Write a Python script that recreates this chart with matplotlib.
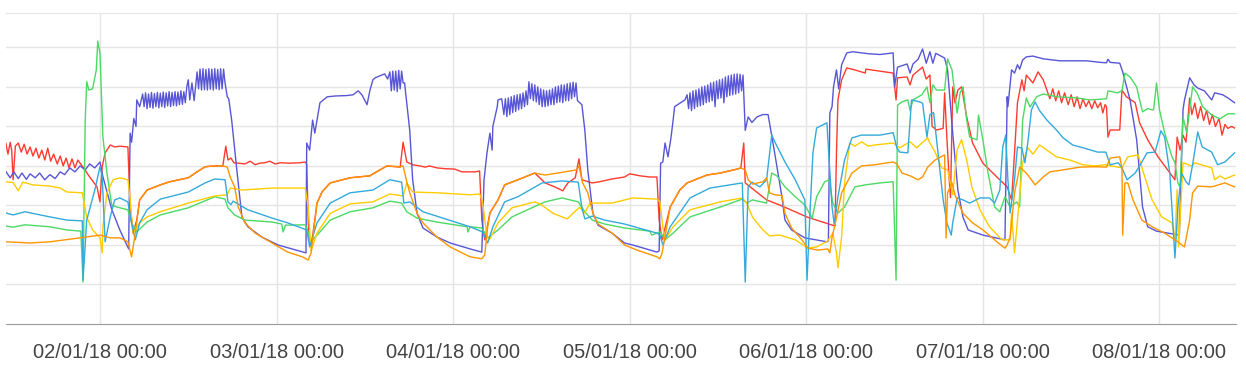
import matplotlib
matplotlib.use("Agg")
import matplotlib.pyplot as plt
import matplotlib.dates as mdates
import pandas as pd

# hours since 01/01/18 00:00 and readings for each series
blue_t = [11.2, 11.8, 12.3, 12.9, 13.4, 14.0, 14.5, 15.2, 15.8, 16.5, 17.2, 17.9, 18.6, 19.2, 19.9,
          20.6, 21.3, 22.0, 22.6, 23.3, 24.0, 24.4, 25.6, 26.7, 27.9,
          28.1, 28.3, 28.6, 28.9, 29.0, 29.4, 29.8,
          30.0, 30.2, 30.4, 30.6, 30.8, 31.0, 31.2, 31.4, 31.6, 31.8, 32.0, 32.2, 32.4, 32.6, 32.8,
          33.0, 33.2, 33.4, 33.6, 33.8, 34.0, 34.2, 34.4, 34.6, 34.8, 35.0, 35.2, 35.4, 35.6,
          35.8, 36.0, 36.2, 36.5, 36.8, 37.2,
          37.4, 37.6, 37.8, 38.0, 38.2, 38.4, 38.6, 38.8, 39.0, 39.2, 39.4, 39.6, 39.8, 40.0,
          40.2, 40.4, 40.6, 40.8, 41.0,
          41.3, 41.5, 41.9, 42.6, 43.3, 44.1, 46.0, 48.2, 52.0,
          52.1, 52.5, 52.9, 53.2, 53.9, 54.9, 56.0, 57.5, 58.4, 59.1, 59.6, 60.3, 60.7, 61.1, 61.4,
          62.7, 63.1, 63.4, 63.6, 63.8, 64.0, 64.2, 64.4, 64.6, 64.8, 65.0, 65.2, 65.4,
          66.1, 66.5, 67.1, 67.9, 69.8, 71.6, 74.3, 75.9,
          76.2, 76.6, 77.0, 77.3, 77.4, 78.0, 78.1, 78.6, 78.9, 79.1, 79.3, 79.5, 79.7, 79.9,
          80.1, 80.3, 80.5, 80.7, 80.9, 81.1, 81.3, 81.5, 81.7, 81.9, 82.1, 82.3, 82.5, 82.7,
          82.9, 83.1, 83.3, 83.5, 83.7, 83.9, 84.1, 84.3, 84.5, 84.7, 84.9, 85.1, 85.3, 85.5,
          85.7, 85.9, 86.1, 86.3, 86.5, 86.7, 86.9, 87.1, 87.3, 87.5, 87.7, 87.9, 88.1, 88.3,
          88.5, 88.7, 88.9, 89.2, 89.5, 89.9, 90.3, 91.0, 91.7, 93.6, 95.3, 96.4, 99.7, 100.0,
          100.2, 100.5, 100.8, 101.2, 101.6, 101.9, 102.1, 103.5,
          103.8, 104.0, 104.2, 104.4, 104.6, 104.8, 105.0, 105.2, 105.4, 105.6, 105.8, 106.0,
          106.2, 106.4, 106.6, 106.8, 107.0, 107.2, 107.4, 107.6, 107.8, 108.0, 108.2, 108.4,
          108.6, 108.8, 109.0, 109.2, 109.4, 109.6, 109.8, 110.0, 110.2, 110.4, 110.6, 110.8,
          111.0, 111.2, 111.4,
          111.7, 112.1, 112.6, 113.3, 114.1, 114.8, 115.0, 115.7, 116.7, 117.1, 118.0, 119.8,
          122.8, 123.0,
          123.2, 123.5, 123.7, 124.1, 124.4, 124.8, 125.5, 126.3, 128.4, 130.0, 131.8, 132.0,
          132.4, 133.7, 134.1, 134.5, 135.2, 135.8, 136.3, 136.8, 137.2, 137.6, 138.8, 139.2,
          139.9, 140.6, 141.3, 142.0, 144.0, 147.0,
          147.3, 147.4, 147.9, 148.3, 148.7, 149.0, 149.4, 149.9, 150.8, 152.2, 154.5, 158.1,
          160.0, 160.8, 161.0, 161.3, 162.6, 163.0, 164.0, 164.9, 165.7, 166.4, 167.6, 170.7,
          171.2, 171.4, 172.1, 172.7, 173.2, 174.1, 175.1, 175.5, 176.6, 177.3, 178.2]
blue_v = [3.86, 3.70, 3.85, 3.68, 3.82, 3.66, 3.80, 3.70, 3.82, 3.65, 3.78, 3.68, 3.85, 3.78, 3.95,
          3.85, 4.00, 3.90, 4.05, 3.95, 4.10, 3.73, 2.90, 2.38, 1.90,
          4.83, 4.60, 5.20, 5.00, 5.67, 5.50, 5.82,
          5.50, 5.85, 5.45, 5.82, 5.48, 5.86, 5.46, 5.83, 5.50, 5.86, 5.47, 5.84, 5.50, 5.87, 5.48,
          5.85, 5.52, 5.88, 5.50, 5.86, 5.53, 5.88, 5.52, 5.87, 5.55, 5.90, 5.56, 5.88, 5.60,
          6.00, 6.18, 5.67, 6.10, 5.65, 6.38,
          5.95, 6.45, 5.92, 6.46, 5.93, 6.44, 5.92, 6.46, 5.94, 6.45, 5.92, 6.46, 5.95, 6.44,
          5.93, 6.46, 5.95, 6.45, 6.10,
          5.75, 5.70, 5.16, 3.90, 2.70, 2.46, 2.20, 2.00, 1.80,
          4.58, 4.40, 5.16, 4.83, 5.60, 5.75, 5.77, 5.78, 5.80, 5.90, 5.80, 5.55, 5.92, 6.18, 6.23,
          6.33, 6.20, 6.38, 5.90, 6.40, 5.92, 6.40, 5.88, 6.42, 5.95, 6.40, 6.10, 6.10,
          4.90, 3.65, 2.80, 2.43, 2.20, 2.05, 1.90, 1.82,
          3.65, 4.33, 4.83, 4.40, 5.00, 5.50, 5.67, 5.70, 5.30, 5.70, 5.25, 5.72, 5.30, 5.75,
          5.35, 5.78, 5.38, 5.80, 5.42, 5.82, 5.45, 5.85, 5.50, 5.90, 5.55, 6.13, 5.70, 6.08,
          5.65, 6.05, 5.62, 6.00, 5.55, 5.95, 5.50, 5.92, 5.50, 5.90, 5.52, 5.92, 5.55, 5.95,
          5.55, 6.00, 5.60, 6.02, 5.62, 6.05, 5.60, 6.05, 5.65, 6.08, 5.65, 6.10, 5.70, 6.12,
          5.75, 6.10, 5.65, 5.60, 5.55, 4.90, 3.90, 2.80, 2.50, 2.30, 2.05, 2.00, 1.82, 1.85,
          4.07, 4.10, 4.58, 4.23, 4.70, 5.16, 5.50, 5.67,
          5.80, 5.45, 5.85, 5.40, 5.90, 5.45, 5.92, 5.50, 5.95, 5.52, 6.00, 5.55,
          6.02, 5.60, 6.05, 5.62, 6.10, 5.65, 6.12, 5.50, 6.15, 5.70, 6.18, 5.72,
          6.20, 5.60, 6.25, 5.75, 6.28, 5.78, 6.30, 5.80, 6.32, 5.82, 6.33, 5.85,
          6.32, 5.90, 6.30,
          4.90, 5.24, 5.10, 5.24, 5.30, 5.30, 5.09, 4.33, 3.20, 2.63, 2.38, 2.18,
          2.08, 2.10,
          5.34, 5.50, 6.00, 6.43, 5.95, 6.56, 6.86, 6.89, 6.84, 6.82, 6.86, 6.00,
          6.50, 6.58, 6.35, 6.58, 6.70, 6.96, 6.60, 6.89, 6.60, 6.85, 6.73, 6.43,
          4.83, 3.39, 2.70, 2.38, 2.25, 2.13,
          5.75, 5.50, 6.43, 6.35, 6.56, 6.45, 6.68, 6.76, 6.78, 6.71, 6.66, 6.66,
          6.62, 6.61, 6.70, 6.62, 6.60, 6.38, 5.67, 4.66, 2.96, 2.46, 2.35, 2.25,
          5.42, 5.67, 6.23, 6.05, 5.97, 5.90, 5.67, 5.85, 5.80, 5.72, 5.60]

red_t = [11.2, 11.5, 11.8, 12.0, 12.2, 12.5, 12.9, 13.3, 13.7, 14.1, 14.5, 14.9, 15.3, 15.7, 16.1,
         16.5, 16.9, 17.3, 17.7, 18.2, 18.6, 19.0, 19.4, 19.8, 20.2, 20.6, 21.0, 21.3, 21.7, 22.6,
         23.6, 24.0, 24.3, 24.7, 25.4, 26.0, 26.7, 27.8, 28.1, 28.5, 29.0, 29.4, 30.4, 32.2, 33.5,
         36.0, 37.2, 38.3, 39.6, 40.7, 41.1, 41.4, 41.8, 42.2, 42.8, 43.7, 44.4, 45.1, 45.7, 46.4,
         47.1, 47.8, 48.5, 49.8, 51.2, 51.9, 52.1, 52.3, 52.4, 52.7, 53.5, 54.2, 55.3, 58.0, 60.7,
         61.1, 63.0, 64.8, 65.2, 65.7, 66.5, 67.5, 68.2, 68.8, 69.8, 70.9, 72.2, 73.2, 74.3, 75.0,
         75.6, 75.9, 76.3, 77.0, 78.1, 79.0, 80.8, 83.1, 84.5, 85.8, 86.9, 87.6, 88.6, 89.1, 89.5,
         90.9, 91.9, 93.6, 95.3, 96.0, 97.4, 98.7, 99.7, 100.0, 100.4, 101.5, 102.8, 103.8, 106.5,
         108.3, 110.6, 111.1, 111.5, 111.7, 114.6, 116.4, 120.2, 123.6, 123.9, 124.1, 124.3, 124.8,
         125.5, 126.6, 128.0, 128.1, 130.0, 131.8, 132.2, 132.4, 133.7, 134.1, 134.5, 135.8, 136.3,
         136.8, 137.1, 137.7, 138.6, 138.8, 139.1, 139.4, 139.6, 139.9, 140.2, 140.6, 141.1, 141.8,
         142.6, 144.0, 145.9, 147.3, 147.9, 148.3, 148.7, 149.3, 149.6, 149.9, 150.8, 151.5, 152.2,
         152.7, 153.1, 153.5, 153.9, 154.3, 154.7, 155.1, 155.6, 156.0, 156.4, 156.8, 157.2, 157.6,
         158.0, 158.4, 158.8, 159.2, 159.6, 160.0, 160.3, 160.6, 160.8, 161.0, 161.3, 162.6, 162.9,
         163.5, 164.7, 165.3, 166.4, 167.8, 169.1, 170.1, 170.4, 170.8, 171.2, 171.6, 172.1, 172.4,
         172.8, 173.2, 173.6, 174.0, 174.4, 174.8, 175.2, 175.6, 176.1, 176.5, 176.9, 177.3, 177.8,
         178.2]
red_v = [4.58, 4.30, 4.60, 4.40, 3.65, 4.50, 4.58, 4.35, 4.55, 4.30, 4.48, 4.25, 4.45, 4.20, 4.40,
         4.15, 4.45, 4.12, 4.30, 4.05, 4.25, 4.00, 4.20, 3.95, 4.18, 3.95, 4.15, 4.07, 3.97, 3.72,
         3.47, 3.09, 3.98, 4.33, 4.53, 4.48, 4.50, 4.48, 2.96, 2.30, 2.63, 3.14, 3.39, 3.52, 3.60,
         3.70, 3.85, 3.98, 4.00, 4.00, 4.50, 4.15, 4.20, 4.08, 4.07, 4.05, 4.12, 4.03, 4.07, 4.08,
         4.12, 4.05, 4.08, 4.07, 4.08, 4.10, 4.05, 2.63, 2.13, 1.95, 3.06, 3.35, 3.57, 3.70, 3.75,
         3.80, 4.00, 3.97, 4.60, 4.10, 4.03, 4.00, 3.97, 4.00, 3.95, 3.93, 3.92, 3.85, 3.85, 3.85,
         3.87, 2.63, 2.13, 2.81, 3.14, 3.52, 3.65, 3.82, 3.57, 3.47, 3.37, 3.57, 3.70, 4.18, 3.65,
         3.57, 3.60, 3.67, 3.72, 3.80, 3.75, 3.72, 3.72, 2.63, 2.13, 2.96, 3.39, 3.57, 3.77,
         3.82, 3.92, 3.95, 4.58, 3.57, 3.14, 3.01, 2.70, 2.50, 2.48, 4.33, 5.67, 6.18,
         6.48, 6.43, 6.35, 6.45, 6.40, 6.35, 5.67, 6.23, 6.25, 6.05, 6.30, 6.50, 6.20,
         6.30, 5.00, 4.91, 4.95, 5.85, 4.73, 3.72, 3.20, 6.00, 5.60, 5.92, 6.00, 5.24,
         4.58, 4.07, 3.72, 3.47, 3.14, 4.33, 5.60, 6.18, 5.90, 6.30, 6.10, 6.38, 6.18,
         5.92, 5.70, 5.95, 5.65, 5.90, 5.60, 5.85, 5.55, 5.80, 5.50, 5.75, 5.45, 5.70,
         5.50, 5.65, 5.45, 5.65, 5.47, 5.60, 5.34, 5.55, 5.50, 4.73, 4.91, 4.91, 5.92,
         5.75, 5.60, 5.09, 4.66, 4.23, 3.90, 3.65, 4.73, 4.40, 4.78, 4.60, 5.72, 5.30,
         5.59, 5.20, 5.50, 5.15, 5.40, 5.05, 5.30, 5.00, 5.20, 4.78, 5.05, 4.95, 5.00,
         4.96]

orange_t = [11.2, 14.5, 17.2, 21.3, 24.0, 25.4, 26.7, 27.8, 28.3, 28.8, 29.4, 30.4, 32.2, 33.5, 36.0,
            37.2, 38.3, 39.6, 40.7, 41.3, 41.7, 42.3, 42.8, 43.7, 45.1, 47.4, 49.5, 51.5, 52.3, 52.7,
            53.5, 54.2, 55.3, 58.0, 60.7, 63.0, 64.8, 65.2, 65.7, 66.1, 67.1, 67.9, 69.8, 71.6, 74.3,
            75.9, 76.3, 76.7, 77.0, 78.1, 79.0, 80.8, 83.1, 84.5, 86.2, 88.8, 89.1, 89.6, 90.3, 91.0,
            91.7, 93.6, 95.3, 97.0, 99.7, 100.1, 100.4, 101.5, 102.8, 103.8, 106.5, 108.3, 110.6,
            111.1, 111.7, 112.1, 112.7, 114.1, 114.6, 115.0, 115.7, 116.7, 117.1, 118.0, 119.4, 120.2,
            121.6, 122.9, 123.2, 123.5, 123.9, 124.8, 126.2, 127.5, 129.3, 131.8, 132.3, 133.0, 134.1,
            135.2, 135.8, 136.5, 137.5, 138.8, 139.0, 139.2, 139.8, 140.2, 141.3, 142.6, 144.0, 145.9,
            147.0, 147.3, 147.7, 148.3, 149.0, 149.9, 151.1, 152.2, 153.1, 154.9, 157.2, 159.2, 160.8,
            161.3, 162.6, 162.9, 163.0, 163.3, 163.7, 164.4, 165.6, 167.0, 168.7, 170.5, 171.4, 172.1,
            172.5, 173.2, 175.1, 176.9, 178.2]
orange_v = [2.08, 2.05, 2.08, 2.18, 2.25, 2.18, 2.18, 2.08, 1.70, 2.30, 3.14, 3.39, 3.52, 3.60, 3.70,
            3.85, 3.98, 4.00, 4.00, 3.97, 3.72, 3.47, 2.96, 2.56, 2.30, 2.05, 1.82, 1.70, 1.62, 1.80,
            3.06, 3.35, 3.57, 3.70, 3.75, 4.00, 3.98, 4.00, 3.60, 3.32, 2.80, 2.56, 2.20, 1.95, 1.70,
            1.65, 1.75, 2.46, 2.81, 3.14, 3.52, 3.65, 3.82, 3.77, 3.82, 3.90, 4.00, 3.57, 3.32, 2.80,
            2.53, 2.30, 2.00, 1.87, 1.70, 1.65, 1.80, 2.96, 3.39, 3.57, 3.77, 3.82, 3.92,
            3.95, 3.90, 3.65, 3.54, 3.60, 3.70, 3.32, 3.27, 3.25, 2.80, 2.43, 2.13, 1.92,
            1.87, 1.90, 1.80, 2.20, 2.51, 3.32, 3.82, 4.00, 4.03, 4.10, 4.05, 3.82, 3.75,
            3.65, 3.72, 3.97, 4.15, 4.28, 2.18, 3.32, 3.57, 3.27, 2.80, 2.56, 2.38, 2.08,
            1.92, 2.00, 2.20, 3.32, 3.97, 3.82, 3.52, 3.72, 3.85, 3.90, 3.97, 3.98, 3.97,
            4.20, 4.23, 3.95, 2.25, 3.57, 3.57, 3.14, 2.63, 2.46, 2.30, 2.08, 1.95, 2.63,
            3.32, 3.49, 3.47, 3.57, 3.47]

yellow_t = [11.2, 12.2, 12.9, 13.5, 14.9, 17.2, 18.6, 19.5, 21.6, 22.2, 23.0, 24.0, 24.3, 24.4, 24.95,
            25.8, 26.7, 27.8, 28.1, 28.5, 29.4, 30.4, 32.2, 36.0, 39.6, 41.3, 41.7, 43.3, 47.4, 51.9,
            52.3, 52.7, 53.5, 55.3, 58.0, 61.1, 63.4, 65.2, 65.7, 66.5, 69.8, 74.3, 75.6, 76.0, 76.6,
            77.0, 78.1, 80.0, 83.1, 83.8, 85.6, 87.5, 88.8, 89.2, 89.9, 90.6, 93.6, 95.3, 96.4, 99.7,
            100.1, 100.5, 100.8, 101.9, 104.2, 108.3, 111.3, 111.9, 112.7, 114.1, 115.0, 116.4, 118.5,
            120.2, 121.4, 122.9, 123.6, 124.1, 124.3, 124.8, 125.2, 125.9, 126.6, 127.5, 128.4, 129.3,
            131.8, 132.7, 134.1, 135.0, 136.5, 136.8, 137.5, 138.4, 139.2, 139.9, 140.5, 141.1, 141.8,
            142.5, 143.6, 144.9, 146.6, 147.7, 147.9, 148.3, 148.7, 149.4, 150.1, 150.8, 151.7, 152.7,
            154.0, 155.8, 157.6, 159.2, 160.6, 162.9, 163.7, 165.1, 165.7, 167.0, 168.3, 169.7, 170.1,
            170.4, 170.6, 171.2, 172.4, 172.8, 175.1, 175.5, 176.2, 176.9, 178.2]
yellow_v = [3.60, 3.58, 3.37, 3.59, 3.52, 3.49, 3.44, 3.34, 3.32, 2.70, 2.38, 2.18, 1.80, 2.46, 3.32,
            3.65, 3.70, 3.65, 3.14, 2.30, 2.56, 2.71, 2.84, 3.06, 3.24, 3.27, 3.44, 3.39, 3.44, 3.44,
            2.96, 1.85, 2.30, 2.80, 3.04, 3.09, 3.29, 3.24, 3.57, 3.34, 3.32, 3.27, 3.29, 3.10, 2.20,
            2.15, 2.56, 2.94, 3.09, 3.04, 2.80, 2.66, 2.89, 2.95, 2.81, 3.06, 3.06, 3.14, 3.19, 3.16,
            3.10, 2.46, 2.13, 2.46, 2.89, 3.09, 3.19, 3.06, 2.70, 2.38, 2.23, 2.25, 2.13,
            1.92, 1.95, 2.10, 2.30, 1.80, 1.42, 2.20, 3.57, 4.58, 4.50, 4.61, 4.50, 4.53,
            4.58, 4.46, 4.61, 4.46, 4.71, 4.58, 4.35, 3.95, 3.90, 3.27, 4.41, 4.66, 4.15,
            3.47, 2.89, 2.46, 2.13, 2.13, 2.81, 1.80, 2.63, 4.08, 4.46, 4.30, 4.53, 4.40,
            4.23, 4.15, 4.03, 4.00, 4.03, 3.95, 4.23, 4.28, 3.90, 3.14, 2.71, 2.56, 2.10,
            3.40, 1.95, 4.08, 4.00, 4.08, 3.95, 3.65, 3.75, 3.67, 3.77]

cyan_t = [11.2, 12.2, 13.8, 17.2, 19.5, 21.6, 21.7, 22.2, 23.3, 24.0, 24.3, 24.7, 25.4, 26.0, 26.7,
          27.8, 28.3, 28.8, 29.4, 30.4, 32.2, 36.0, 38.3, 39.6, 41.0, 41.4, 41.8, 42.1, 44.1, 47.4,
          49.5, 52.1, 52.5, 53.5, 55.3, 58.0, 61.1, 63.4, 65.0, 65.3, 66.1, 67.9, 70.6, 74.3, 76.0,
          76.7, 77.4, 79.0, 80.8, 84.1, 86.8, 89.0, 89.5, 89.9, 90.9, 92.6, 95.3, 99.7, 100.1, 100.5,
          101.5, 104.2, 106.9, 111.3, 111.4, 111.7, 112.1, 112.6, 113.7, 114.6, 115.3, 116.0, 117.1,
          118.5, 119.8, 120.1, 120.5, 120.9, 121.4, 122.8, 123.1, 123.5, 123.8, 124.3, 125.2, 126.2,
          127.5, 130.0, 131.8, 132.3, 132.7, 133.8, 134.3, 135.4, 135.8, 136.4, 136.8, 137.3, 137.9,
          138.6, 139.1, 139.7, 139.9, 140.5, 141.3, 142.2, 143.6, 144.9, 145.6, 146.3, 146.7, 147.1,
          147.4, 147.7, 148.3, 148.7, 149.3, 149.7, 150.1, 150.6, 151.1, 151.7, 152.7, 154.0, 154.9,
          156.2, 157.6, 159.6, 160.7, 161.3, 162.4, 162.9, 163.6, 164.7, 165.3, 166.3, 167.4, 168.2,
          168.7, 169.4, 169.8, 170.1, 170.5, 171.0, 171.6, 172.0, 172.5, 173.2, 173.8, 175.1, 175.9,
          176.9, 178.2]
cyan_v = [2.81, 2.76, 2.84, 2.71, 2.63, 2.61, 1.11, 2.63, 3.39, 3.98, 3.75, 2.08, 2.71, 3.14, 3.19,
          3.09, 2.56, 2.13, 2.56, 2.89, 3.16, 3.34, 3.57, 3.67, 3.65, 3.09, 3.02, 3.11, 2.89, 2.68,
          2.56, 2.38, 1.95, 2.56, 3.06, 3.32, 3.39, 3.65, 3.59, 3.06, 3.09, 2.84, 2.68, 2.46, 2.33,
          2.05, 2.46, 3.09, 3.22, 3.57, 3.62, 3.59, 2.94, 2.66, 2.73, 2.63, 2.53, 2.30, 2.25, 2.00,
          2.46, 3.19, 3.44, 3.57, 2.96, 1.06, 3.47, 3.59, 3.47, 3.65, 4.78, 4.50, 4.10,
          3.65, 3.14, 1.11, 2.81, 4.33, 4.96, 5.09, 4.15, 2.96, 2.51, 3.22, 4.15, 4.71,
          4.78, 4.78, 4.84, 4.46, 4.35, 4.33, 5.67, 5.62, 5.59, 4.73, 5.30, 5.35, 4.33,
          3.14, 2.56, 2.25, 2.56, 3.19, 3.14, 3.06, 3.19, 3.19, 3.06, 3.39, 4.48, 4.78,
          3.65, 2.81, 3.65, 4.48, 4.45, 4.08, 4.58, 5.42, 5.62, 5.40, 5.16, 4.91, 4.71,
          4.53, 4.46, 4.35, 4.35, 4.03, 4.08, 3.95, 3.65, 3.82, 4.00, 4.33, 4.35, 4.89,
          4.73, 3.82, 2.63, 1.67, 2.96, 3.82, 3.60, 3.52, 4.03, 4.86, 4.48, 4.35, 4.03,
          4.10, 4.33]

green_t = [11.2, 12.2, 13.8, 17.2, 19.5, 21.4, 21.7, 22.0, 22.2, 22.5, 23.0, 23.5, 23.7, 24.0, 24.4,
           24.95, 25.6, 26.3, 27.8, 28.3, 29.0, 30.4, 32.2, 36.0, 39.6, 41.0, 41.4, 42.3, 43.7, 47.4,
           48.7, 48.9, 49.2, 51.9, 52.3, 52.5, 53.9, 55.3, 58.0, 61.1, 63.4, 65.0, 65.7, 67.1, 69.8,
           73.9, 74.0, 74.3, 75.9, 76.7, 78.1, 80.0, 82.7, 84.5, 86.8, 89.0, 89.9, 90.9, 92.6, 95.3,
           98.7, 99.0, 99.7, 100.1, 100.8, 101.9, 104.2, 108.3, 111.3, 111.9, 112.7, 114.6, 115.3,
           116.0, 117.1, 118.5, 119.8, 120.8, 121.4, 122.5, 123.1, 123.6, 124.3, 125.2, 126.6, 128.0,
           130.0, 131.8, 132.2, 132.4, 133.0, 133.8, 134.1, 134.5, 135.7, 136.4, 136.8, 137.2, 137.7,
           138.8, 139.2, 139.8, 140.5, 140.9, 141.3, 141.8, 142.2, 143.2, 143.4, 144.0, 144.7, 145.6,
           146.3, 147.0, 147.7, 148.6, 149.0, 149.4, 149.9, 150.4, 151.3, 152.2, 154.0, 156.8, 158.5,
           160.8, 161.0, 162.3, 162.9, 163.3, 164.0, 164.9, 165.3, 165.7, 166.4, 167.0, 167.2, 167.6,
           168.0, 168.7, 169.7, 170.1, 170.5, 170.8, 171.2, 171.7, 172.1, 172.5, 173.1, 173.9, 175.1,
           176.2, 177.3, 178.2]
green_v = [2.48, 2.45, 2.51, 2.46, 2.38, 2.35, 1.06, 5.16, 6.13, 5.92, 5.95, 6.43, 7.16, 6.86, 4.73,
           3.82, 3.01, 2.96, 2.89, 2.56, 2.33, 2.58, 2.76, 2.94, 3.22, 3.16, 2.94, 2.76, 2.63, 2.58,
           2.53, 2.33, 2.50, 2.51, 2.33, 2.05, 2.33, 2.63, 2.84, 2.94, 3.11, 3.06, 2.84, 2.68, 2.58,
           2.46, 2.33, 2.46, 2.43, 2.18, 2.38, 2.71, 2.94, 3.09, 3.19, 3.09, 2.84, 2.63, 2.53, 2.43,
           2.35, 2.25, 2.30, 2.33, 2.13, 2.30, 2.71, 2.96, 3.16, 3.06, 3.14, 3.06, 3.82,
           3.75, 3.47, 3.22, 3.01, 2.68, 3.22, 3.60, 3.65, 3.06, 2.81, 2.96, 3.47, 3.52,
           3.57, 3.60, 1.11, 5.54, 5.62, 5.67, 5.40, 5.67, 5.80, 6.00, 5.60, 6.05, 5.92,
           5.92, 6.71, 6.43, 5.34, 5.85, 6.00, 5.16, 4.73, 4.66, 5.29, 4.66, 3.82, 2.96,
           2.84, 3.22, 2.96, 3.09, 2.96, 5.16, 5.72, 5.49, 5.75, 5.82, 5.75, 5.72, 5.67,
           5.70, 5.90, 5.85, 5.90, 6.35, 6.25, 6.00, 5.67, 5.37, 5.45, 5.42, 5.42, 6.10,
           5.42, 4.84, 4.23, 4.08, 3.57, 3.47, 5.24, 4.84, 5.42, 6.00, 5.85, 5.49, 5.29,
           5.19, 5.32, 5.32]

series = [
    (red_t, red_v, "#ff3b30"),
    (blue_t, blue_v, "#5856d6"),
    (green_t, green_v, "#4cd964"),
    (yellow_t, yellow_v, "#ffcc00"),
    (cyan_t, cyan_v, "#34aadc"),
    (orange_t, orange_v, "#ff9500"),
]

start = pd.Timestamp("2018-01-01")


def to_dates(hours):
    return start + pd.to_timedelta(hours, unit="h")


fig = plt.figure(figsize=(12.46, 3.73), dpi=100)
ax = fig.add_axes([6 / 1246, 49 / 373, 1230 / 1246, 311 / 373])

for t, v, c in series:
    ax.plot(to_dates(t), v, color=c, lw=1.0, solid_joinstyle="round")

ax.set_ylim(0, 7.87)
ax.set_xlim(to_dates([11.23])[0], to_dates([178.4])[0])
ax.set_yticks(range(1, 8))
ax.set_yticklabels([])

ax.xaxis.set_major_locator(mdates.DayLocator())
ax.xaxis.set_major_formatter(mdates.DateFormatter("%d/%m/%y %H:%M"))
ax.grid(True, color="#e5e5e5", lw=1.0)
ax.set_axisbelow(True)

for side in ["left", "right"]:
    ax.spines[side].set_visible(False)
ax.spines["top"].set_color("#e5e5e5")
ax.spines["bottom"].set_color("#999999")

ax.tick_params(axis="both", length=0)
ax.tick_params(axis="x", pad=14, labelsize=14.5, labelcolor="#444444")
for lbl in ax.get_xticklabels():
    lbl.set_fontfamily("Liberation Sans")

fig.savefig("out.png", dpi=100)
